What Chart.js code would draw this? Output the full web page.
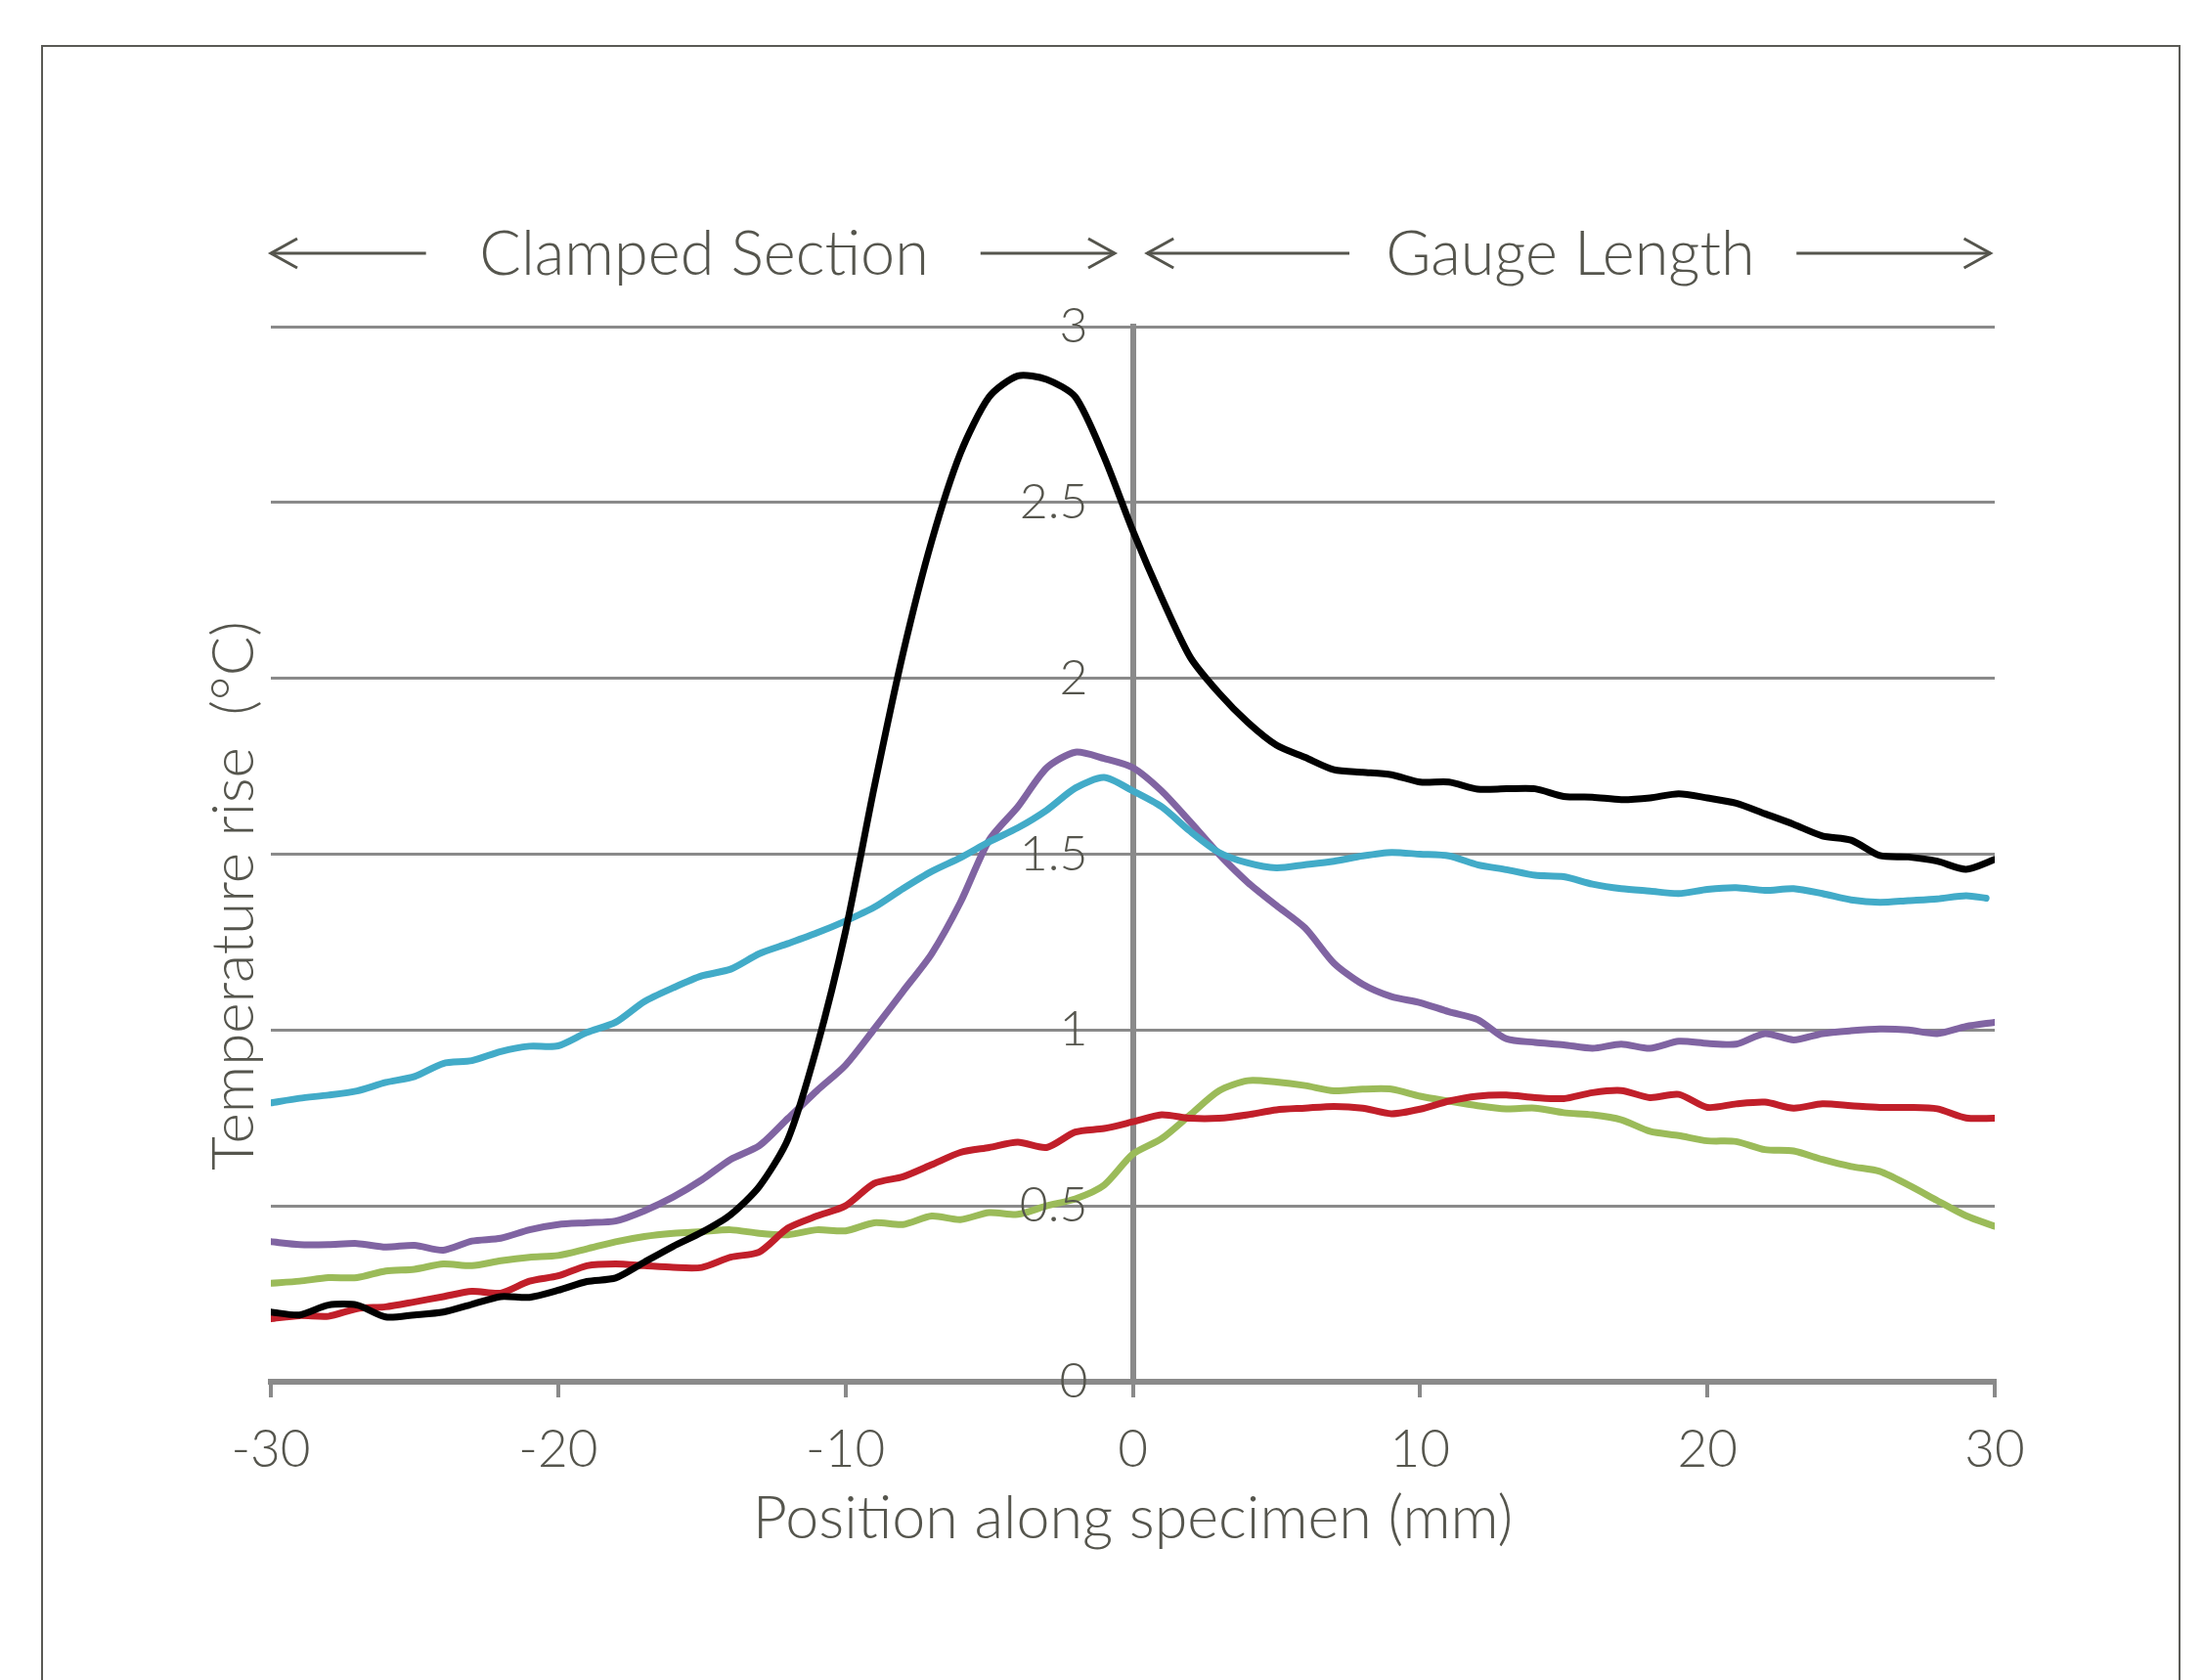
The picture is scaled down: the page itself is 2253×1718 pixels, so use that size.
<!DOCTYPE html>
<html>
<head>
<meta charset="utf-8">
<script src="https://cdn.jsdelivr.net/npm/chart.js@4/dist/chart.umd.min.js"></script>
<style>
  html, body { margin: 0; padding: 0; background: #ffffff; overflow: hidden; }
  #wrap { position: relative; width: 2253px; height: 1718px; }
  #frame { position: absolute; left: 42px; top: 46px; width: 2188px; height: 1800px; border: 2px solid #5a5a55; box-sizing: border-box; }
  #c { position: absolute; left: 0; top: 0; }
</style>
</head>
<body>
<div id="wrap">
  <div id="frame"></div>
  <canvas id="c" width="2253" height="1718"></canvas>
</div>
<script>
// ---------------- data ----------------
const positions = [-30,-29,-28,-27,-26,-25,-24,-23,-22,-21,-20,-19,-18,-17,-16,-15,-14,-13,-12,-11,-10,
  -9,-8,-7,-6,-5,-4,-3,-2,-1,0,1,2,3,4,5,6,7,8,9,10,11,12,13,14,15,16,17,18,19,20,
  21,22,23,24,25,26,27,28,29,30];

const blackSeries = [0.198,0.19,0.218,0.218,0.184,0.19,0.198,0.22,0.242,0.24,0.26,
  0.285,0.295,0.34,0.385,0.425,0.475,0.555,0.69,0.95,1.28,
  1.69,2.07,2.39,2.64,2.80,2.86,2.85,2.80,2.63,2.42,
  2.23,2.06,1.958,1.875,1.81,1.775,1.74,1.733,1.726,1.705,
  1.705,1.685,1.686,1.686,1.664,1.662,1.655,1.66,1.672,1.66,
  1.645,1.615,1.585,1.552,1.54,1.496,1.492,1.48,1.457,1.485];

const cyanPositions = [-30,-29,-28,-27,-26,-25,-24,-23,-22,-21,-20,-19,-18,-17,-16,-15,-14,-13,-12,-11,-10,
  -9,-8,-7,-6,-5,-4,-3,-2,-1,0,1,2,3,4,5,6,7,8,9,10,11,12,13,14,15,16,17,18,19,20,
  21,22,23,24,25,26,27,28,29,29.7];
const cyanSeries = [0.793,0.806,0.815,0.827,0.851,0.868,0.905,0.913,0.939,0.954,0.955,
  0.993,1.022,1.081,1.12,1.154,1.173,1.217,1.246,1.276,1.31,
  1.349,1.402,1.451,1.49,1.535,1.575,1.625,1.688,1.718,1.68,
  1.635,1.565,1.505,1.475,1.461,1.47,1.48,1.495,1.505,1.5,
  1.495,1.47,1.456,1.44,1.436,1.415,1.402,1.395,1.388,1.4,
  1.405,1.397,1.402,1.388,1.37,1.363,1.368,1.373,1.382,1.375];

const purpleSeries = [0.398,0.39,0.39,0.393,0.383,0.388,0.374,0.40,0.408,0.432,0.447,
  0.452,0.457,0.486,0.525,0.574,0.632,0.671,0.749,0.827,0.90,
  1.003,1.11,1.217,1.363,1.54,1.635,1.745,1.79,1.772,1.746,
  1.68,1.592,1.5,1.42,1.354,1.29,1.19,1.13,1.095,1.078,
  1.052,1.03,0.975,0.965,0.958,0.948,0.96,0.948,0.968,0.962,
  0.96,0.99,0.972,0.99,0.998,1.003,1.0,0.99,1.01,1.022];

const redSeries = [0.179,0.188,0.186,0.208,0.213,0.227,0.242,0.257,0.252,0.286,0.301,
  0.33,0.335,0.33,0.325,0.325,0.354,0.369,0.437,0.471,0.5,
  0.564,0.583,0.617,0.652,0.666,0.681,0.666,0.71,0.72,0.739,
  0.759,0.749,0.749,0.759,0.773,0.778,0.783,0.778,0.762,0.775,
  0.798,0.812,0.815,0.808,0.805,0.822,0.828,0.808,0.817,0.78,
  0.79,0.795,0.778,0.79,0.785,0.78,0.78,0.776,0.75,0.749];

const greenSeries = [0.28,0.286,0.296,0.296,0.315,0.32,0.335,0.33,0.344,0.354,0.359,
  0.378,0.398,0.413,0.422,0.427,0.432,0.422,0.418,0.432,0.429,
  0.452,0.447,0.471,0.461,0.481,0.476,0.50,0.52,0.559,0.647,
  0.691,0.759,0.827,0.856,0.852,0.842,0.827,0.832,0.832,0.812,
  0.798,0.785,0.776,0.778,0.765,0.759,0.745,0.712,0.70,0.685,
  0.683,0.66,0.656,0.632,0.612,0.598,0.559,0.515,0.472,0.442];

const xTickValues = [-30,-20,-10,0,10,20,30];
const yTickValues = [0,0.5,1,1.5,2,2.5,3];
const sectionLabels = ['Clamped Section', 'Gauge Length'];
const xTitle = 'Position along specimen (mm)';
const yTitle = 'Temperature rise  (°C)';

// ---------------- styles ----------------
const TEXT = '#55554d';
const GRID = '#8a8a8a';
const FONT = 'Lato, "Open Sans", sans-serif';

function pts(xs, ys) { return xs.map((x, i) => ({ x: x, y: ys[i] })); }

const annotations = {
  id: 'annotations',
  afterDraw(chart) {
    const { ctx, scales } = chart;
    const x = scales.x, y = scales.y;
    const top = y.getPixelForValue(3);
    const arrowY = top - 75;
    ctx.save();
    ctx.strokeStyle = TEXT;
    ctx.fillStyle = TEXT;
    ctx.lineWidth = 3;
    ctx.lineCap = 'butt';
    function arrow(fromV, toV) {
      const x1 = x.getPixelForValue(fromV), x2 = x.getPixelForValue(toV);
      const d = x2 > x1 ? 1 : -1;
      ctx.beginPath();
      ctx.moveTo(x1, arrowY); ctx.lineTo(x2, arrowY);
      ctx.stroke();
      ctx.beginPath();
      ctx.moveTo(x2 - d * 27, arrowY - 15);
      ctx.lineTo(x2, arrowY);
      ctx.lineTo(x2 - d * 27, arrowY + 15);
      ctx.stroke();
    }
    arrow(-24.6, -30);
    arrow(-5.3, -0.63);
    arrow(7.54, 0.5);
    arrow(23.1, 29.85);
    ctx.font = '300 63px ' + FONT;
    ctx.textAlign = 'center';
    ctx.textBaseline = 'middle';
    ctx.fillText(sectionLabels[0], x.getPixelForValue(-14.92), arrowY + 2);
    ctx.fillText(sectionLabels[1], x.getPixelForValue(15.23), arrowY + 2);

    // y tick labels, placed left of the centred y axis, through the y scale
    const axisX = x.getPixelForValue(0);
    ctx.font = '300 50px ' + FONT;
    ctx.textAlign = 'right';
    y.ticks.forEach(t => {
      ctx.fillText(String(t.value), axisX - 46, y.getPixelForValue(t.value));
    });

    // y axis title
    ctx.translate(240, 916);
    ctx.rotate(-Math.PI / 2);
    ctx.textAlign = 'center';
    ctx.font = '300 60px ' + FONT;
    ctx.fillText(yTitle, 0, 0);
    ctx.restore();
  }
};

const chart = new Chart(document.getElementById('c'), {
  type: 'line',
  data: {
    datasets: [
      { label: 'black', data: pts(positions, blackSeries), borderColor: '#000000' },
      { label: 'cyan', data: pts(cyanPositions, cyanSeries), borderColor: '#42abc8' },
      { label: 'purple', data: pts(positions, purpleSeries), borderColor: '#8064a2' },
      { label: 'red', data: pts(positions, redSeries), borderColor: '#c11f2a' },
      { label: 'green', data: pts(positions, greenSeries), borderColor: '#9bbb59' }
    ]
  },
  options: {
    responsive: false,
    devicePixelRatio: 1,
    animation: false,
    layout: { padding: { left: 277, right: 213, top: 334, bottom: 0 } },
    elements: {
      line: { borderWidth: 7, tension: 0.25, fill: false, borderCapStyle: 'round', borderJoinStyle: 'round' },
      point: { radius: 0 }
    },
    plugins: { legend: { display: false }, tooltip: { enabled: false } },
    scales: {
      x: {
        type: 'linear',
        position: 'bottom',
        min: -30, max: 30,
        afterBuildTicks: (s) => { s.ticks = xTickValues.map(v => ({ value: v })); },
        afterFit: (s) => { s.height = 305; },
        ticks: { color: TEXT, font: { family: FONT, size: 53, weight: '300' }, padding: 22, maxRotation: 0,
                 callback: (v) => String(v) },
        grid: { drawOnChartArea: false, drawTicks: true, tickLength: 16, color: GRID, lineWidth: 4 },
        border: { color: GRID, width: 6 },
        title: { display: true, text: xTitle, color: TEXT, font: { family: FONT, size: 61, weight: '300' }, padding: { top: 0, bottom: 128 } }
      },
      y: {
        type: 'linear',
        position: { x: 0 },
        min: 0, max: 3,
        afterBuildTicks: (s) => { s.ticks = yTickValues.map(v => ({ value: v })); },
        ticks: { display: false },
        grid: { drawOnChartArea: true, drawTicks: true, tickLength: 14, color: GRID, lineWidth: 3 },
        border: { color: GRID, width: 6 }
      }
    }
  },
  plugins: [annotations]
});
</script>
</body>
</html>
